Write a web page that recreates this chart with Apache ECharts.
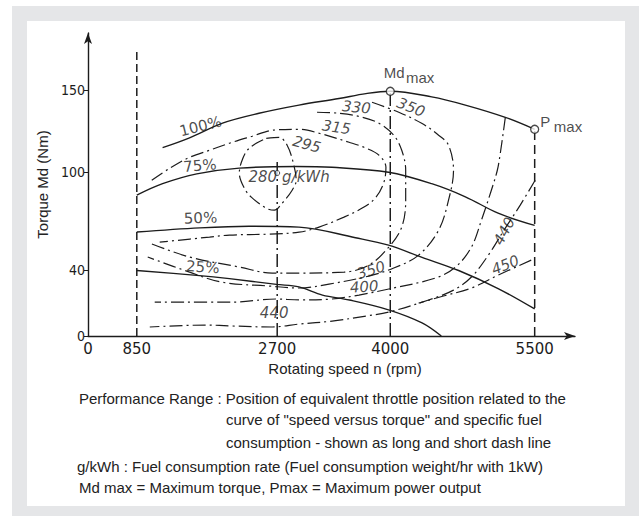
<!DOCTYPE html>
<html><head><meta charset="utf-8">
<script src="https://cdn.jsdelivr.net/npm/echarts@6/dist/echarts.min.js"></script>
<style>
html,body{margin:0;padding:0;background:#fff;width:639px;height:516px;overflow:hidden;}
#frame{position:absolute;left:12px;top:6px;width:627px;height:510px;background:#e5e6e8;}
#panel{position:absolute;left:27px;top:21px;width:598px;height:485px;background:#fff;}
#chart{position:absolute;left:0;top:0;width:639px;height:516px;}
.cap{position:absolute;font-family:"Liberation Sans",Arial,sans-serif;font-size:15px;color:#222;white-space:nowrap;line-height:18px;}
</style></head><body>
<div id="frame"></div><div id="panel"></div>
<div id="chart"></div>
<div class="cap" style="left:79px;top:390px">Performance Range : Position of equivalent throttle position related to the</div>
<div class="cap" style="left:226px;top:411px">curve of "speed versus torque" and specific fuel</div>
<div class="cap" style="left:226px;top:434px">consumption - shown as long and short dash line</div>
<div class="cap" style="left:77px;top:458px">g/kWh : Fuel consumption rate (Fuel consumption weight/hr with 1kW)</div>
<div class="cap" style="left:79px;top:479px">Md max = Maximum torque, Pmax = Maximum power output</div>
<script>
// ---- tick labels ----
const xTicks = [0, 850, 2700, 4000, 5500];
const yTicks = [0, 40, 100, 150];

// ---- throttle curves (rpm, Nm) ----
const load100 = [[1190,115],[1545,121],[1980,130],[2460,136],[2950,141],[3410,145],[3720,148],[4000,149.4],[4430,146],[4780,141],[5195,133.5],[5500,126.2]];
const load75 = [[850,86],[1190,93],[1640,99],[2200,102.5],[2920,103.5],[3330,103],[3980,100],[4430,93],[4780,85],[5120,75],[5500,67.5]];
const load50 = [[850,63.5],[1680,66],[2330,67],[2950,66.5],[3600,60],[3980,55.5],[4330,48],[4710,40],[5120,29],[5500,16.5]];
const load25 = [[850,40],[1640,37],[2070,35],[2690,31.5],[2950,30],[3220,25],[3530,22],[3980,16],[4330,8],[4530,0]];

// ---- specific fuel consumption contours, g/kWh (rpm, Nm) ----
const sfc295 = [[2556,120.7],[2723,121.3],[2814,116.5],[2883,106.1],[2918,95.1],[2872,89],[2757,81.1],[2661,76.8],[2556,78],[2359,84.8],[2267,90.2],[2201,99.4],[2228,106.1],[2306,113.4],[2424,117.7],[2556,120.7]];
const sfc315 = [[1047,95.1],[1283,102.4],[1545,109.1],[1808,113.4],[2070,117.7],[2372,122],[2634,125.6],[2952,126.2],[3181,123.8],[3526,118.3],[3698,115.2],[3870,110.4],[3950,103],[3927,93.9],[3836,84.8],[3698,78.7],[3468,72.6],[3181,66.5],[2952,63.4],[2595,62.2],[2070,61.6],[1808,60.4],[1152,57.3]];
const sfc330 = [[3158,136.6],[3410,136],[3640,134.1],[3870,129.9],[4036,122.6],[4119,113.4],[4160,101.2],[4160,82.9],[4119,66.5],[3983,54.3],[3755,43.3],[3468,39],[2952,38.4],[2634,38.4],[2201,42.1],[1545,48.2],[1021,56.7]];
const sfc350 = [[3790,142.7],[4088,136.6],[4326,129.9],[4502,122.6],[4605,116.5],[4657,101.2],[4605,82.9],[4502,64.6],[4295,49.4],[4036,41.5],[3755,36.6],[3296,31.7],[2952,29.3],[2595,30.5],[1965,32.9],[1545,39],[994,48.2]];
const sfc400 = [[5195,133.5],[5143,111.6],[5112,101.2],[5050,89],[4947,70.7],[4843,54.3],[4678,42.1],[4470,35.4],[3983,28.7],[3640,25],[3331,22.6],[2952,22],[2687,22.6],[2110,20.7],[1086,20.7]];
const sfc440 = [[5505,95.1],[5350,79.9],[5195,65.9],[5019,49.4],[4843,36],[4657,28],[4398,22],[3983,14.6],[3721,12.2],[3331,9.1],[2952,7.3],[2634,5.5],[2110,6.1],[1769,6.7],[1021,5.5]];
const sfc450 = [[5464,46.3],[5122,37.2],[4843,29.3],[4553,24.4],[4295,20.1]];

// ---- reference points ----
const mdMax = [4000, 149.4];
const pMax = [5500, 126.2];
const sfcMin = [2700, 99.5];   // 280 g/kWh

// ---- annotations: text, rpm, Nm, angle ----
const notes = [
  ['100%',1690,128,14],['75%',1680,104,5],['50%',1690,72,2],['25%',1720,42,-4],
  ['280',2510,97,0],['g/kWh',3030,97,0],['295',3040,117,-15],['315',3380,127.4,-8],
  ['330',3610,139.6,-5],['350',4215,139.6,-22],['350',3780,40.2,18],['400',3700,30,4],
  ['440',2660,14,0],['440',5184,64,62],['450',5195,43.3,22]
];
// ---- point names: main letters and subscripts (text, rpm, Nm) ----
const pointNames = [['Md',4041,160.7],['max',4310,157.6],['P',5609,131.1],['max',5846,128]];

// the hand-drawn rpm axis is not to scale: drawn place of each tick (share of axis length)
const xTickAt = [0, 0.1002, 0.3885, 0.6207, 0.9172];
function warp(rpm){
  let i = 0;
  while (i < xTicks.length - 2 && rpm > xTicks[i+1]) i++;
  return xTickAt[i] + (rpm - xTicks[i]) / (xTicks[i+1] - xTicks[i]) * (xTickAt[i+1] - xTickAt[i]);
}
const W = d => d.map(p => [warp(p[0]), p[1]]);

const ink = '#1c1c1c';
const dashDot = [13,4,2,4];
function solid(data){ return {type:'line', data:W(data), smooth:0.35, showSymbol:false, silent:true, lineStyle:{color:ink,width:1.4}, z:3}; }
function contour(data){ return {type:'line', data:W(data), smooth:0.35, showSymbol:false, silent:true, lineStyle:{color:ink,width:1.2,type:dashDot}, z:2}; }
function vline(rpm, top, type){ return {type:'line', data:W([[rpm,0],[rpm,top]]), showSymbol:false, silent:true, lineStyle:{color:ink,width:1.5,type:type}, z:2}; }

const labelFont = {fontFamily:'"DejaVu Sans",sans-serif', fontSize:15, color:ink};
const sans = '"Liberation Sans",Arial,sans-serif';

const chart = echarts.init(document.getElementById('chart'), null, {renderer:'svg'});
chart.setOption({
  animation:false,
  backgroundColor:'transparent',
  grid:{left:88, top:33, width:487, height:303},
  xAxis:{type:'value', min:0, max:1,
    name:'Rotating speed n (rpm)', nameLocation:'middle', nameGap:21,
    nameTextStyle:{fontFamily:sans, fontSize:15, color:'#222', padding:[0,0,0,27]},
    axisLine:{show:true, symbol:['none','arrow'], symbolSize:[6,11], lineStyle:{color:ink,width:1.4}},
    axisTick:{show:false}, splitLine:{show:false},
    axisLabel:{customValues:xTicks.map(warp), margin:5,
      formatter:v=>{let k=0,b=1e9;xTicks.forEach((t,i)=>{const d=Math.abs(warp(t)-v);if(d<b){b=d;k=i;}});return String(xTicks[k]);},
      fontFamily:'"DejaVu Sans",sans-serif', fontSize:15, color:ink}},
  yAxis:{type:'value', min:0, max:185,
    name:'Torque Md (Nm)', nameLocation:'middle', nameGap:27, nameRotate:90,
    nameTextStyle:{fontFamily:sans, fontSize:15, color:'#222'},
    axisLine:{show:true, symbol:['none','arrow'], symbolSize:[6,11], lineStyle:{color:ink,width:1.4}},
    axisTick:{show:true, customValues:yTicks, length:4, lineStyle:{color:ink}}, splitLine:{show:false},
    axisLabel:{customValues:yTicks, margin:3, fontFamily:'"DejaVu Sans Condensed","DejaVu Sans",sans-serif', fontSize:14, color:ink}},
  series:[
    vline(850,175.5,[8,4]), vline(5500,pMax[1],[9,5]), vline(4000,mdMax[1],dashDot), vline(2700,107,dashDot),
    solid(load100), solid(load75), solid(load50), solid(load25),
    contour(sfc295), contour(sfc315), contour(sfc330), contour(sfc350), contour(sfc400), contour(sfc440), contour(sfc450),
    {type:'scatter', data:W([mdMax,pMax]), symbol:'circle', symbolSize:8, itemStyle:{color:'#fff',borderColor:ink,borderWidth:1.3}, z:5, silent:true},
    {type:'scatter', data:W([sfcMin]), symbol:'circle', symbolSize:5, itemStyle:{color:'#fff',borderColor:ink,borderWidth:1}, z:5, silent:true},
    {type:'scatter', symbolSize:0, silent:true, z:6,
      data:notes.map(n=>({value:[warp(n[1]),n[2]], label:{show:true, position:'inside', formatter:n[0], rotate:n[3], ...labelFont, fontStyle: n[0].includes('%')?'normal':'italic'}}))},
    {type:'scatter', symbolSize:0, silent:true, z:6,
      data:pointNames.map(n=>({value:[warp(n[1]),n[2]], label:{show:true, position:'inside', formatter:n[0], fontFamily:sans, fontSize:15, color:ink}}))}
  ]
});
</script>
</body></html>
